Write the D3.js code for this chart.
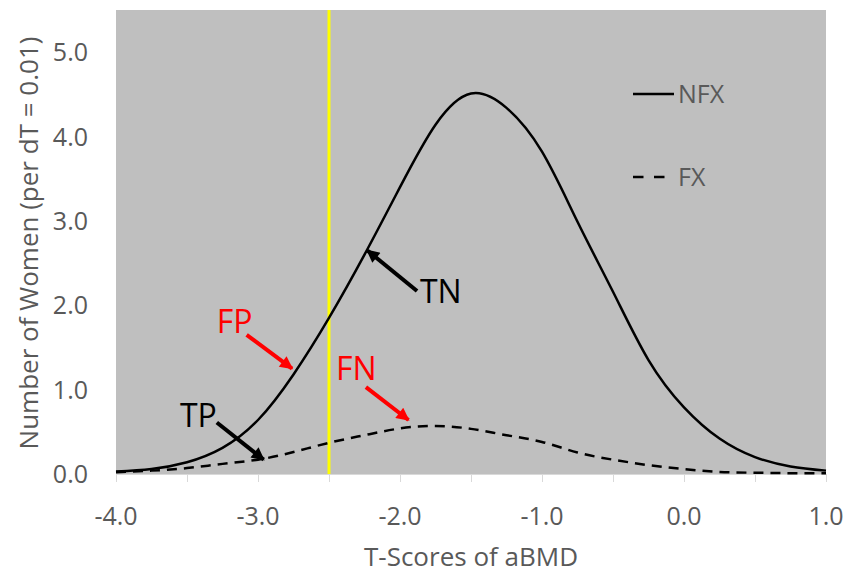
<!DOCTYPE html>
<html>
<head>
    <meta charset="utf-8">
    <title>NFX vs FX T-score distributions</title>
    <script type="text/javascript" src="https://cdn.jsdelivr.net/npm/d3@7"></script>
    <style type="text/css">
        body {
            margin: 0;
            background: #ffffff;
        }

        text {
            font-family: "Open Sans", sans-serif;
        }

        .tick-label, .legend-label {
            fill: #595959;
            font-size: 25px;
        }

        .axis-title {
            fill: #595959;
            font-size: 26px;
        }

        .callout {
            font-size: 32px;
        }
    </style>
</head>

<body>

<script type="text/javascript">
    // T-score sample points (step 0.25) and the two curves
    var tScores = [-4.0, -3.75, -3.5, -3.25, -3.0, -2.75, -2.5, -2.25, -2.0, -1.75, -1.5,
                   -1.25, -1.0, -0.75, -0.5, -0.25, 0.0, 0.25, 0.5, 0.75, 1.0];
    var nfx = [0.03, 0.06, 0.14, 0.31, 0.64, 1.18, 1.85, 2.60, 3.40, 4.14, 4.51,
               4.34, 3.82, 2.99, 2.16, 1.35, 0.79, 0.42, 0.20, 0.09, 0.04];
    var fx = [0.02, 0.04, 0.07, 0.12, 0.17, 0.26, 0.37, 0.46, 0.54, 0.57, 0.535,
              0.46, 0.38, 0.255, 0.17, 0.105, 0.058, 0.025, 0.015, 0.01, 0.01];

    var xTicks = [-4.0, -3.0, -2.0, -1.0, 0.0, 1.0];
    var xMinorTicks = [-4.0, -3.5, -3.0, -2.5, -2.0, -1.5, -1.0, -0.5, 0.0, 0.5, 1.0];
    var yTicks = [0.0, 1.0, 2.0, 3.0, 4.0, 5.0];
    var threshold = -2.5;

    var seriesNames = ["NFX", "FX"];

    // callouts: label, colour, label position (data units), arrow start and tip (data units)
    var calloutLabels = ["TN", "FP", "TP", "FN"];
    var calloutColors = ["#000000", "#ff0000", "#000000", "#ff0000"];
    var calloutText = [[-1.86, 2.03], [-3.29, 1.67], [-3.55, 0.56], [-2.45, 1.12]];
    var calloutFrom = [[-1.88, 2.17], [-3.08, 1.65], [-3.29, 0.61], [-2.24, 1.03]];
    var calloutTo = [[-2.23, 2.65], [-2.76, 1.25], [-2.96, 0.17], [-1.94, 0.64]];

    var w = 861, h = 573,
        margin = {top: 10, right: 35, bottom: 99, left: 116};

    var fmt = d3.formatLocale({decimal: ".", thousands: ",", grouping: [3],
                               currency: ["", ""], minus: "-"}).format(".1f");

    var svg = d3.select("body")
        .append("svg")
            .attr("width", w)
            .attr("height", h);

    var x = d3.scaleLinear()
        .domain([-4, 1])
        .range([margin.left, w - margin.right]);

    var y = d3.scaleLinear()
        .domain([0, 5.5])
        .range([h - margin.bottom, margin.top]);

    // plot area
    svg.append("rect")
        .attr("x", x(-4))
        .attr("y", y(5.5))
        .attr("width", x(1) - x(-4))
        .attr("height", y(0) - y(5.5))
        .attr("fill", "#bfbfbf");

    // x axis: light line with small ticks every 0.5, labels every 1.0
    var xAxis = svg.append("g")
        .attr("transform", "translate(0," + y(0) + ")")
        .call(d3.axisBottom(x).tickValues(xMinorTicks).tickSize(8).tickFormat(""));
    xAxis.select(".domain").attr("stroke", "#d9d9d9");
    xAxis.selectAll(".tick line").attr("stroke", "#d9d9d9");

    svg.append("g")
        .selectAll("text")
        .data(xTicks)
        .join("text")
            .attr("class", "tick-label")
            .attr("x", function (d) {return x(d);})
            .attr("y", y(0) + 51)
            .attr("text-anchor", "middle")
            .text(fmt);

    svg.append("g")
        .selectAll("text")
        .data(yTicks)
        .join("text")
            .attr("class", "tick-label")
            .attr("x", margin.left - 28)
            .attr("y", function (d) {return y(d);})
            .attr("dy", "0.36em")
            .attr("text-anchor", "end")
            .text(fmt);

    // axis titles
    svg.append("text")
        .attr("class", "axis-title")
        .attr("x", (x(-4) + x(1)) / 2)
        .attr("y", 566)
        .attr("text-anchor", "middle")
        .text("T-Scores of aBMD");

    svg.append("text")
        .attr("class", "axis-title")
        .attr("transform", "translate(38," + 243 + ") rotate(-90)")
        .attr("text-anchor", "middle")
        .text("Number of Women (per dT = 0.01)");

    // threshold line
    svg.append("line")
        .attr("x1", x(threshold))
        .attr("x2", x(threshold))
        .attr("y1", y(5.5))
        .attr("y2", y(0))
        .attr("stroke", "#ffff00")
        .attr("stroke-width", 3);

    var line = d3.line()
        .x(function (d) {return x(d[0]);})
        .y(function (d) {return y(d[1]);})
        .curve(d3.curveNatural);

    svg.append("path")
        .datum(d3.zip(tScores, nfx))
        .attr("fill", "none")
        .attr("stroke", "#000")
        .attr("stroke-width", 2.5)
        .attr("d", line);

    svg.append("path")
        .datum(d3.zip(tScores, fx))
        .attr("fill", "none")
        .attr("stroke", "#000")
        .attr("stroke-width", 2.5)
        .attr("stroke-dasharray", "10,7")
        .attr("d", line);

    // legend
    var legend = svg.append("g")
        .attr("transform", "translate(633,0)");

    legend.selectAll("line")
        .data(seriesNames)
        .join("line")
            .attr("x1", 0)
            .attr("x2", function (d, i) {return i === 0 ? 41 : 32;})
            .attr("y1", function (d, i) {return i === 0 ? 94 : 177;})
            .attr("y2", function (d, i) {return i === 0 ? 94 : 177;})
            .attr("stroke", "#000")
            .attr("stroke-width", 2.5)
            .attr("stroke-dasharray", function (d, i) {return i === 0 ? null : "10.5,10.5";});

    legend.selectAll("text")
        .data(seriesNames)
        .join("text")
            .attr("class", "legend-label")
            .attr("x", 45)
            .attr("y", function (d, i) {return i === 0 ? 94 : 177;})
            .attr("dy", "0.36em")
            .text(function (d) {return d;});

    // callout arrows
    var defs = svg.append("defs");
    calloutColors.forEach(function (c, i) {
        defs.append("marker")
            .attr("id", "arrow" + i)
            .attr("viewBox", "0 0 10 10")
            .attr("refX", 9)
            .attr("refY", 5)
            .attr("markerUnits", "userSpaceOnUse")
            .attr("markerWidth", 15)
            .attr("markerHeight", 13)
            .attr("orient", "auto")
          .append("path")
            .attr("d", "M0,0 L10,5 L0,10 z")
            .attr("fill", c);
    });

    svg.append("g")
        .selectAll("line")
        .data(calloutLabels)
        .join("line")
            .attr("x1", function (d, i) {return x(calloutFrom[i][0]);})
            .attr("y1", function (d, i) {return y(calloutFrom[i][1]);})
            .attr("x2", function (d, i) {return x(calloutTo[i][0]);})
            .attr("y2", function (d, i) {return y(calloutTo[i][1]);})
            .attr("stroke", function (d, i) {return calloutColors[i];})
            .attr("stroke-width", 4)
            .attr("marker-end", function (d, i) {return "url(#arrow" + i + ")";});

    svg.append("g")
        .selectAll("text")
        .data(calloutLabels)
        .join("text")
            .attr("class", "callout")
            .attr("x", function (d, i) {return x(calloutText[i][0]);})
            .attr("y", function (d, i) {return y(calloutText[i][1]);})
            .attr("fill", function (d, i) {return calloutColors[i];})
            .text(function (d) {return d;});

</script>

</body>

</html>
